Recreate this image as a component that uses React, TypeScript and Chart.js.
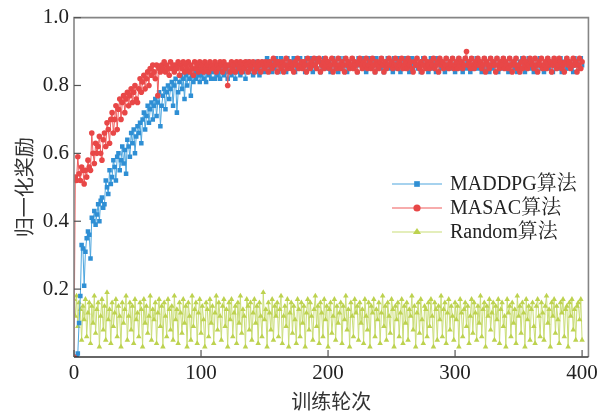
import React, { useEffect, useRef } from "react";
import { Chart, registerables } from "chart.js";

Chart.register(...registerables);

// Episode spacing between recorded points
const EPISODE_STEP = 1;

const SERIES_NAMES = ["MADDPG算法", "MASAC算法", "Random算法"];
const X_TICKS = [0, 100, 200, 300, 400];
const Y_TICKS = [0.2, 0.4, 0.6, 0.8, 1.0];

// MADDPG (x = 0 .. 400)
const MADDPG = [
  0.00, 0.00, 0.00, 0.01, 0.10, 0.18, 0.33, 0.32, 0.21, 0.31,
  0.35, 0.37, 0.36, 0.29, 0.41, 0.40, 0.43, 0.39, 0.42, 0.45,
  0.40, 0.46, 0.47, 0.44, 0.45, 0.52, 0.50, 0.48, 0.55, 0.51,
  0.53, 0.58, 0.56, 0.52, 0.59, 0.60, 0.55, 0.58, 0.62, 0.57,
  0.61, 0.54, 0.64, 0.62, 0.59, 0.66, 0.63, 0.67, 0.60, 0.65,
  0.68, 0.66, 0.69, 0.63, 0.70, 0.72, 0.67, 0.71, 0.74, 0.69,
  0.73, 0.75, 0.70, 0.74, 0.76, 0.71, 0.75, 0.78, 0.68, 0.74,
  0.77, 0.79, 0.73, 0.78, 0.80, 0.76, 0.79, 0.81, 0.74, 0.80,
  0.82, 0.72, 0.78, 0.81, 0.83, 0.79, 0.82, 0.76, 0.83, 0.80,
  0.84, 0.82, 0.77, 0.83, 0.81, 0.84, 0.82, 0.85, 0.83, 0.81,
  0.83, 0.85, 0.82, 0.84, 0.81, 0.85, 0.83, 0.84, 0.82, 0.85,
  0.84, 0.82, 0.85, 0.83, 0.86, 0.82, 0.84, 0.85, 0.83, 0.86,
  0.84, 0.82, 0.85, 0.86, 0.83, 0.84, 0.86, 0.82, 0.85, 0.84,
  0.86, 0.83, 0.85, 0.84, 0.86, 0.82, 0.85, 0.87, 0.84, 0.86,
  0.85, 0.83, 0.86, 0.84, 0.87, 0.85, 0.83, 0.86, 0.85, 0.87,
  0.84, 0.86, 0.88, 0.85, 0.87, 0.86, 0.84, 0.87, 0.85, 0.88,
  0.86, 0.84, 0.87, 0.88, 0.85, 0.86, 0.87, 0.84, 0.88, 0.86,
  0.85, 0.87, 0.86, 0.88, 0.84, 0.87, 0.85, 0.86, 0.88, 0.87,
  0.85, 0.86, 0.84, 0.88, 0.87, 0.85, 0.86, 0.88, 0.84, 0.87,
  0.86, 0.85, 0.88, 0.87, 0.84, 0.86, 0.85, 0.88, 0.86, 0.87,
  0.85, 0.87, 0.84, 0.86, 0.88, 0.85, 0.87, 0.86, 0.84, 0.88,
  0.86, 0.87, 0.85, 0.88, 0.86, 0.84, 0.87, 0.85, 0.86, 0.88,
  0.87, 0.85, 0.86, 0.84, 0.88, 0.86, 0.87, 0.85, 0.88, 0.86,
  0.84, 0.87, 0.86, 0.88, 0.85, 0.87, 0.86, 0.84, 0.88, 0.85,
  0.87, 0.86, 0.88, 0.85, 0.84, 0.87, 0.86, 0.88, 0.85, 0.87,
  0.86, 0.84, 0.88, 0.87, 0.85, 0.86, 0.88, 0.84, 0.87, 0.86,
  0.85, 0.88, 0.86, 0.87, 0.84, 0.86, 0.88, 0.85, 0.87, 0.86,
  0.88, 0.85, 0.86, 0.84, 0.87, 0.88, 0.86, 0.85, 0.87, 0.84,
  0.86, 0.88, 0.85, 0.87, 0.86, 0.84, 0.88, 0.86, 0.87, 0.85,
  0.86, 0.87, 0.84, 0.88, 0.85, 0.86, 0.87, 0.85, 0.88, 0.86,
  0.84, 0.87, 0.86, 0.88, 0.85, 0.87, 0.84, 0.86, 0.88, 0.85,
  0.87, 0.86, 0.84, 0.88, 0.86, 0.85, 0.87, 0.88, 0.85, 0.86,
  0.87, 0.84, 0.86, 0.88, 0.85, 0.87, 0.86, 0.84, 0.88, 0.86,
  0.85, 0.87, 0.86, 0.88, 0.84, 0.86, 0.87, 0.85, 0.88, 0.86,
  0.87, 0.85, 0.84, 0.88, 0.86, 0.87, 0.85, 0.86, 0.88, 0.84,
  0.86, 0.87, 0.85, 0.88, 0.86, 0.84, 0.87, 0.86, 0.88, 0.85,
  0.87, 0.86, 0.84, 0.88, 0.85, 0.86, 0.87, 0.88, 0.85, 0.86,
  0.84, 0.87, 0.86, 0.88, 0.85, 0.87, 0.86, 0.84, 0.88, 0.86,
  0.87, 0.85, 0.86, 0.88, 0.84, 0.86, 0.87, 0.85, 0.88, 0.86,
  0.85, 0.87, 0.86, 0.84, 0.88, 0.86, 0.87, 0.85, 0.86, 0.88,
  0.86,
];

// MASAC (x = 0 .. 400)
const MASAC = [
  0.00, 0.53, 0.52, 0.59, 0.54, 0.52, 0.56, 0.55, 0.51, 0.55,
  0.53, 0.58, 0.56, 0.55, 0.66, 0.60, 0.57, 0.63, 0.60, 0.62,
  0.65, 0.60, 0.58, 0.64, 0.66, 0.62, 0.69, 0.67, 0.63, 0.70,
  0.72, 0.66, 0.70, 0.74, 0.67, 0.73, 0.76, 0.70, 0.75, 0.77,
  0.72, 0.76, 0.78, 0.74, 0.77, 0.79, 0.75, 0.78, 0.80, 0.76,
  0.75, 0.79, 0.82, 0.78, 0.81, 0.83, 0.79, 0.82, 0.84, 0.80,
  0.85, 0.83, 0.86, 0.84, 0.82, 0.86, 0.77, 0.85, 0.84, 0.86,
  0.85, 0.87, 0.84, 0.86, 0.85, 0.83, 0.87, 0.85, 0.86, 0.84,
  0.86, 0.85, 0.87, 0.83, 0.86, 0.85, 0.87, 0.84, 0.86, 0.85,
  0.87, 0.84, 0.86, 0.85, 0.83, 0.87, 0.85, 0.86, 0.84, 0.87,
  0.85, 0.86, 0.84, 0.87, 0.85, 0.86, 0.84, 0.87, 0.85, 0.86,
  0.85, 0.87, 0.84, 0.86, 0.85, 0.87, 0.86, 0.84, 0.87, 0.85,
  0.86, 0.80, 0.86, 0.84, 0.87, 0.85, 0.86, 0.84, 0.87, 0.86,
  0.85, 0.87, 0.84, 0.86, 0.85, 0.87, 0.86, 0.84, 0.87, 0.85,
  0.86, 0.87, 0.84, 0.86, 0.85, 0.87, 0.86, 0.84, 0.87, 0.86,
  0.85, 0.87, 0.86, 0.84, 0.87, 0.86, 0.85, 0.88, 0.86, 0.87,
  0.84, 0.87, 0.86, 0.85, 0.87, 0.84, 0.86, 0.88, 0.85, 0.86,
  0.87, 0.85, 0.86, 0.84, 0.87, 0.86, 0.88, 0.85, 0.86, 0.87,
  0.85, 0.87, 0.86, 0.84, 0.88, 0.86, 0.85, 0.87, 0.86, 0.88,
  0.86, 0.85, 0.87, 0.88, 0.84, 0.86, 0.87, 0.85, 0.88, 0.86,
  0.87, 0.85, 0.86, 0.88, 0.84, 0.87, 0.86, 0.85, 0.88, 0.86,
  0.85, 0.87, 0.86, 0.84, 0.88, 0.86, 0.87, 0.85, 0.86, 0.88,
  0.85, 0.87, 0.86, 0.84, 0.87, 0.88, 0.86, 0.85, 0.87, 0.86,
  0.88, 0.85, 0.86, 0.87, 0.85, 0.88, 0.86, 0.84, 0.87, 0.86,
  0.85, 0.87, 0.88, 0.86, 0.84, 0.87, 0.85, 0.86, 0.88, 0.86,
  0.87, 0.85, 0.86, 0.88, 0.86, 0.85, 0.87, 0.86, 0.88, 0.85,
  0.86, 0.87, 0.85, 0.88, 0.86, 0.87, 0.85, 0.84, 0.87, 0.86,
  0.88, 0.86, 0.85, 0.87, 0.84, 0.86, 0.88, 0.85, 0.87, 0.86,
  0.85, 0.87, 0.86, 0.88, 0.85, 0.86, 0.87, 0.84, 0.88, 0.86,
  0.87, 0.85, 0.86, 0.88, 0.86, 0.85, 0.87, 0.86, 0.88, 0.85,
  0.86, 0.87, 0.85, 0.88, 0.86, 0.87, 0.85, 0.86, 0.88, 0.90,
  0.86, 0.87, 0.85, 0.88, 0.86, 0.85, 0.87, 0.86, 0.88, 0.86,
  0.87, 0.85, 0.86, 0.88, 0.84, 0.87, 0.86, 0.85, 0.88, 0.86,
  0.87, 0.86, 0.84, 0.88, 0.86, 0.85, 0.87, 0.86, 0.88, 0.85,
  0.87, 0.86, 0.85, 0.88, 0.86, 0.84, 0.87, 0.86, 0.88, 0.85,
  0.86, 0.84, 0.87, 0.85, 0.88, 0.86, 0.87, 0.85, 0.86, 0.88,
  0.87, 0.86, 0.85, 0.88, 0.86, 0.84, 0.87, 0.86, 0.88, 0.85,
  0.86, 0.87, 0.85, 0.88, 0.86, 0.87, 0.84, 0.86, 0.88, 0.87,
  0.85, 0.86, 0.88, 0.87, 0.85, 0.86, 0.84, 0.87, 0.88, 0.86,
  0.87, 0.85, 0.86, 0.88, 0.86, 0.87, 0.84, 0.86, 0.88, 0.85,
  0.87,
];

// Random (x = 0 .. 400)
const RANDOM = [
  0.17, 0.12, 0.18, 0.09, 0.16, 0.14, 0.05, 0.15, 0.11, 0.17,
  0.06, 0.13, 0.16, 0.04, 0.15, 0.10, 0.18, 0.07, 0.14, 0.16,
  0.03, 0.12, 0.17, 0.08, 0.15, 0.05, 0.19, 0.11, 0.14, 0.04,
  0.16, 0.09, 0.13, 0.17, 0.06, 0.15, 0.12, 0.03, 0.16, 0.10,
  0.14, 0.18, 0.05, 0.12, 0.16, 0.08, 0.15, 0.04, 0.17, 0.11,
  0.13, 0.06, 0.16, 0.14, 0.03, 0.17, 0.10, 0.15, 0.07, 0.12,
  0.18, 0.05, 0.14, 0.11, 0.16, 0.04, 0.13, 0.17, 0.09, 0.15,
  0.03, 0.16, 0.12, 0.06, 0.17, 0.14, 0.08, 0.15, 0.05, 0.18,
  0.11, 0.14, 0.04, 0.16, 0.13, 0.07, 0.17, 0.10, 0.15, 0.03,
  0.16, 0.12, 0.05, 0.18, 0.09, 0.14, 0.16, 0.04, 0.13, 0.17,
  0.07, 0.15, 0.11, 0.03, 0.16, 0.14, 0.06, 0.17, 0.10, 0.15,
  0.04, 0.13, 0.18, 0.08, 0.16, 0.12, 0.05, 0.15, 0.17, 0.09,
  0.14, 0.03, 0.16, 0.11, 0.17, 0.06, 0.13, 0.15, 0.04, 0.16,
  0.10, 0.18, 0.07, 0.14, 0.12, 0.03, 0.17, 0.15, 0.08, 0.16,
  0.05, 0.13, 0.17, 0.10, 0.15, 0.04, 0.16, 0.12, 0.06, 0.19,
  0.11, 0.14, 0.03, 0.16, 0.13, 0.08, 0.17, 0.05, 0.15, 0.12,
  0.16, 0.06, 0.14, 0.18, 0.04, 0.12, 0.15, 0.09, 0.17, 0.03,
  0.13, 0.16, 0.07, 0.15, 0.11, 0.04, 0.17, 0.14, 0.06, 0.16,
  0.10, 0.15, 0.03, 0.13, 0.17, 0.08, 0.16, 0.12, 0.05, 0.14,
  0.18, 0.09, 0.15, 0.04, 0.16, 0.13, 0.06, 0.17, 0.11, 0.15,
  0.03, 0.14, 0.16, 0.07, 0.12, 0.17, 0.05, 0.15, 0.10, 0.13,
  0.16, 0.04, 0.15, 0.11, 0.18, 0.08, 0.14, 0.03, 0.16, 0.12,
  0.06, 0.17, 0.13, 0.15, 0.05, 0.16, 0.10, 0.14, 0.04, 0.17,
  0.12, 0.08, 0.16, 0.03, 0.15, 0.13, 0.17, 0.06, 0.14, 0.11,
  0.16, 0.04, 0.13, 0.18, 0.09, 0.15, 0.05, 0.16, 0.12, 0.07,
  0.17, 0.14, 0.03, 0.15, 0.11, 0.16, 0.06, 0.13, 0.17, 0.04,
  0.15, 0.10, 0.16, 0.05, 0.14, 0.12, 0.18, 0.08, 0.15, 0.03,
  0.13, 0.16, 0.07, 0.17, 0.11, 0.04, 0.15, 0.14, 0.06, 0.16,
  0.09, 0.17, 0.12, 0.03, 0.16, 0.14, 0.05, 0.15, 0.11, 0.18,
  0.06, 0.14, 0.16, 0.04, 0.13, 0.17, 0.08, 0.15, 0.12, 0.05,
  0.16, 0.11, 0.15, 0.03, 0.17, 0.13, 0.06, 0.14, 0.16, 0.09,
  0.15, 0.04, 0.12, 0.17, 0.07, 0.16, 0.13, 0.05, 0.15, 0.10,
  0.18, 0.06, 0.14, 0.16, 0.03, 0.15, 0.12, 0.17, 0.08, 0.13,
  0.16, 0.05, 0.15, 0.11, 0.17, 0.04, 0.14, 0.16, 0.09, 0.12,
  0.03, 0.17, 0.13, 0.15, 0.06, 0.16, 0.10, 0.14, 0.04, 0.18,
  0.12, 0.15, 0.07, 0.16, 0.13, 0.03, 0.17, 0.11, 0.15, 0.05,
  0.14, 0.16, 0.09, 0.04, 0.15, 0.17, 0.12, 0.06, 0.16, 0.13,
  0.05, 0.15, 0.18, 0.10, 0.14, 0.03, 0.16, 0.12, 0.17, 0.07,
  0.15, 0.11, 0.04, 0.16, 0.13, 0.17, 0.06, 0.14, 0.15, 0.03,
  0.16, 0.12, 0.17, 0.08, 0.14, 0.05, 0.15, 0.16, 0.11, 0.17,
  0.05,
];

const SERIF = '"Liberation Serif", "Times New Roman", "Noto Serif CJK SC", "Noto Sans CJK SC", serif';
const CJK = '"Noto Sans CJK SC", "Liberation Serif", serif';

const COLORS = [
  { line: "#4ea6de", point: "#2f8fd4", style: "rect", radius: 3.2 },
  { line: "#ef5b5b", point: "#e84747", style: "circle", radius: 2.8 },
  { line: "#cadd78", point: "#bdd24f", style: "triangle", radius: 3.2 },
];

const toPoints = (vals: number[]) => vals.map((v, i) => ({ x: i * EPISODE_STEP, y: v }));

function drawMarker(ctx: CanvasRenderingContext2D, style: string, x: number, y: number, r: number) {
  ctx.beginPath();
  if (style === "rect") {
    const s = Math.SQRT1_2 * r;
    ctx.rect(x - s, y - s, 2 * s, 2 * s);
  } else if (style === "circle") {
    ctx.arc(x, y, r, 0, Math.PI * 2);
  } else {
    ctx.moveTo(x, y - r);
    ctx.lineTo(x + r * 0.866 + 0.6, y + r * 0.5);
    ctx.lineTo(x - r * 0.866 - 0.6, y + r * 0.5);
    ctx.closePath();
  }
  ctx.fill();
}

const framePlugin = {
  id: "frameAndLegend",
  afterDatasetsDraw(chart: any) {
    const { ctx, chartArea } = chart;
    const { left, right, top, bottom } = chartArea;
    const xs = chart.scales.x;
    const ys = chart.scales.y;
    ctx.save();
    // frame
    ctx.lineWidth = 1.6;
    ctx.strokeStyle = "#858585";
    ctx.beginPath();
    ctx.moveTo(left, bottom);
    ctx.lineTo(left, top);
    ctx.lineTo(right, top);
    ctx.lineTo(right, bottom);
    ctx.stroke();
    ctx.strokeStyle = "#333333";
    ctx.beginPath();
    ctx.moveTo(left, bottom);
    ctx.lineTo(right, bottom);
    ctx.stroke();
    // inward ticks
    ctx.lineWidth = 1.2;
    ctx.strokeStyle = "#555555";
    Y_TICKS.forEach((v) => {
      const py = ys.getPixelForValue(v);
      ctx.beginPath();
      ctx.moveTo(left, py);
      ctx.lineTo(left + 7, py);
      ctx.stroke();
    });
    X_TICKS.forEach((v) => {
      const px = xs.getPixelForValue(v);
      ctx.beginPath();
      ctx.moveTo(px, bottom);
      ctx.lineTo(px, bottom - 7);
      ctx.stroke();
    });
    // legend
    const lx = 392;
    const rows = [184, 208, 232];
    chart.data.datasets.forEach((ds: any, i: number) => {
      const c = COLORS[i];
      const y = rows[i];
      ctx.strokeStyle = c.line;
      ctx.lineWidth = 1.2;
      ctx.beginPath();
      ctx.moveTo(lx, y);
      ctx.lineTo(lx + 50, y);
      ctx.stroke();
      ctx.fillStyle = c.point;
      drawMarker(ctx, c.style, lx + 25, y, c.radius + 0.8);
      ctx.fillStyle = "#222222";
      ctx.font = `20px ${SERIF}`;
      ctx.textAlign = "left";
      ctx.textBaseline = "middle";
      ctx.fillText(ds.label, lx + 58, y + 1);
    });
    ctx.restore();
  },
};

export default function App() {
  const ref = useRef<HTMLCanvasElement>(null);
  useEffect(() => {
    if (!ref.current) return;
    const series = [MADDPG, MASAC, RANDOM];
    const orders = [1, 0, 2];
    const chart = new Chart(ref.current, {
      type: "line",
      data: {
        datasets: series.map((vals, i) => ({
          label: SERIES_NAMES[i],
          data: toPoints(vals),
          borderColor: COLORS[i].line,
          backgroundColor: COLORS[i].point,
          pointBackgroundColor: COLORS[i].point,
          pointBorderWidth: 0,
          pointStyle: COLORS[i].style as any,
          pointRadius: COLORS[i].radius,
          borderWidth: 1,
          tension: 0,
          fill: false,
          order: orders[i],
        })),
      },
      options: {
        animation: false,
        responsive: false,
        maintainAspectRatio: false,
        layout: { padding: { top: 13, right: 13, left: 0, bottom: 0 } },
        plugins: { legend: { display: false }, tooltip: { enabled: false } },
        scales: {
          x: {
            type: "linear",
            min: 0,
            max: 405,
            afterBuildTicks: (s: any) => {
              s.ticks = X_TICKS.map((v) => ({ value: v }));
            },
            afterFit: (s: any) => {
              s.height = 57;
            },
            grid: { display: false, drawTicks: false },
            border: { display: false },
            ticks: {
              font: { family: SERIF, size: 21 },
              color: "#222222",
              padding: 4,
              maxRotation: 0,
              autoSkip: false,
              callback: (v: any) => String(v),
            },
            title: {
              display: true,
              text: "训练轮次",
              font: { family: CJK, size: 20 },
              color: "#333333",
              padding: { top: 0, bottom: 1 },
            },
          },
          y: {
            type: "linear",
            min: 0,
            max: 1,
            afterBuildTicks: (s: any) => {
              s.ticks = Y_TICKS.map((v) => ({ value: v }));
            },
            afterFit: (s: any) => {
              s.width = 74;
            },
            grid: { display: false, drawTicks: false },
            border: { display: false },
            ticks: {
              font: { family: SERIF, size: 21 },
              color: "#222222",
              padding: 5,
              autoSkip: false,
              callback: (v: any) => Number(v).toFixed(1),
            },
            title: {
              display: true,
              text: "归一化奖励",
              font: { family: CJK, size: 20 },
              color: "#333333",
              padding: { top: 12, bottom: 0 },
            },
          },
        },
      },
      plugins: [framePlugin],
    });
    return () => chart.destroy();
  }, []);
  return (
    <div style={{ position: "fixed", left: 0, top: 0, width: 602, height: 414, background: "#ffffff" }}>
      <canvas ref={ref} width={602} height={414} style={{ width: 602, height: 414 }} />
    </div>
  );
}
